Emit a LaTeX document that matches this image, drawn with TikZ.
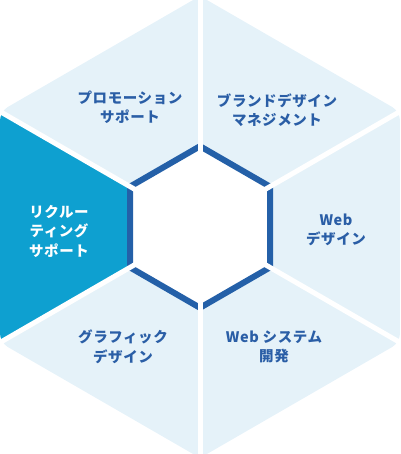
\documentclass[tikz,border=0pt]{standalone}
\usepackage{fontspec}
\newfontfamily\jp{Noto Sans CJK JP}[LetterSpace=4]
\definecolor{lightseg}{HTML}{E5F2F9}
\definecolor{cyanseg}{HTML}{0EA0D0}
\definecolor{bandblue}{HTML}{2460A8}
\definecolor{txtblue}{HTML}{2A5EA6}
\tikzset{
  seglabel/.style={align=center, inner sep=0pt, font=\jp\bfseries\fontsize{14.5}{19.5}\selectfont, text=txtblue},
  spoke/.style={white, line width=5pt},
}
\begin{document}
\begin{tikzpicture}[x=1pt,y=-1pt]
\useasboundingbox (0,0) rectangle (400,454);
\coordinate (c) at (200,227);
\coordinate (vt) at (200,-4);
\coordinate (vur) at (400,111.5);
\coordinate (vlr) at (400,342.5);
\coordinate (vb) at (200,458);
\coordinate (vll) at (0,342.5);
\coordinate (vul) at (0,111.5);
\begin{scope}
  \clip[rounded corners=9pt] (vt) -- (vur) -- (vlr) -- (vb) -- (vll) -- (vul) -- cycle;
  \fill[lightseg] (-10,-10) rectangle (410,464);
  \fill[cyanseg] (c) -- (vul) -- (vll) -- cycle;
\end{scope}
% inner hexagon
\fill[white] (200,146.2) -- (270,186.6) -- (270,267.4) -- (200,307.8) -- (130,267.4) -- (130,186.6) -- cycle;
\draw[bandblue, line width=6pt] (200,146.2) -- (270,186.6) -- (270,267.4) -- (200,307.8) -- (130,267.4) -- (130,186.6) -- cycle;
% spokes
\foreach \v in {vt,vur,vlr,vb,vll,vul} \draw[spoke] (c) -- (\v);
% labels
\node[seglabel] (promo) at (130,107.5) {プロモーション\\サポート};
\node[seglabel] (brand) at (277,110) {ブランドデザイン\\マネジメント};
\node[seglabel, text=white] (recruit) at (59,231) {リクルー\\ティング\\サポート};
\node[seglabel] (web) at (336,230) {Web\\デザイン};
\node[seglabel] (graphic) at (123,347) {グラフィック\\デザイン};
\node[seglabel] (websys) at (274,347) {Web システム\\開発};
\end{tikzpicture}
\end{document}
